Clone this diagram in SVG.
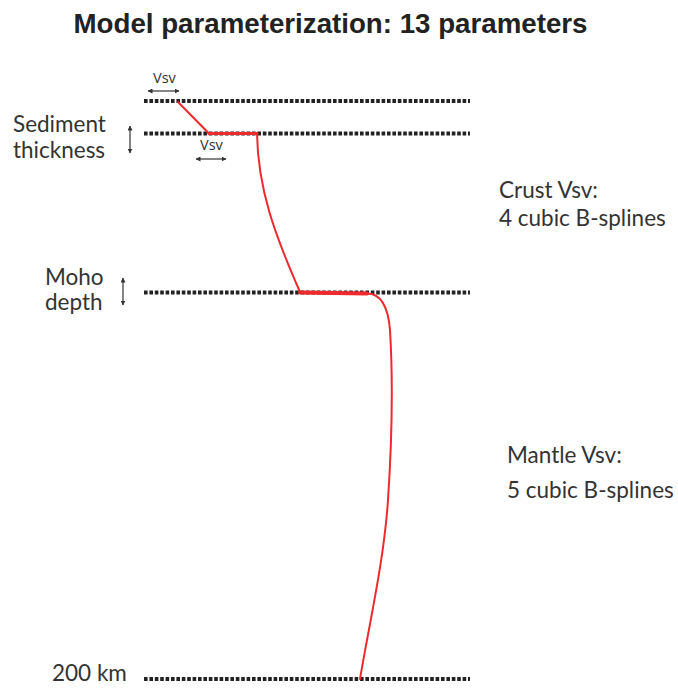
<svg xmlns="http://www.w3.org/2000/svg" width="678" height="692" viewBox="0 0 678 692">
<defs>
<marker id="ah" viewBox="0 0 10 10" refX="9" refY="5" markerWidth="5" markerHeight="5" orient="auto-start-reverse" markerUnits="userSpaceOnUse">
<path d="M0,0 L10,5 L0,10 z" fill="#333"/>
</marker>
<style>
.title{font-family:"Liberation Sans",Arial,sans-serif;font-weight:bold;font-size:27.7px;fill:#222}
.lbl{font-family:Lato,"Open Sans",sans-serif;font-size:22.5px;fill:#333}
.sm{font-family:"Open Sans","Noto Sans",sans-serif;font-size:14.5px;fill:#333}
.dash{stroke:#222;stroke-width:4;stroke-dasharray:3.6 1.8;fill:none}
.arr{stroke:#333;stroke-width:1.2;fill:none;marker-start:url(#ah);marker-end:url(#ah)}
.red{stroke:#ee2a2e;fill:none;stroke-linejoin:round;stroke-linecap:round}
</style>
</defs>
<rect width="678" height="692" fill="#fff"/>
<text class="title" x="330.5" y="33" text-anchor="middle">Model parameterization: 13 parameters</text>

<g id="layers">
<line class="dash" x1="144" y1="101" x2="470" y2="101"/>
<line class="dash" x1="144" y1="133.5" x2="470" y2="133.5"/>
<line class="dash" x1="144" y1="292.5" x2="470" y2="292.5"/>
<line class="dash" x1="144" y1="679" x2="470" y2="679"/>
</g>

<g id="sediment">
<text class="lbl" x="13" y="132">Sediment</text>
<text class="lbl" x="13" y="158">thickness</text>
<line class="arr" x1="130" y1="126" x2="130" y2="153"/>
</g>
<g id="moho">
<text class="lbl" x="45" y="285">Moho</text>
<text class="lbl" x="45" y="310">depth</text>
<line class="arr" x1="123" y1="278" x2="123" y2="305"/>
</g>
<g id="bottom">
<text class="lbl" x="52" y="681">200 km</text>
</g>
<g id="vsv-top">
<text class="sm" x="153" y="83">Vsv</text>
<line class="arr" x1="148" y1="91" x2="179" y2="91"/>
</g>
<g id="vsv-sed">
<text class="sm" x="200" y="150">Vsv</text>
<line class="arr" x1="196" y1="159" x2="226" y2="159"/>
</g>
<g id="crust">
<text class="lbl" x="499" y="198">Crust Vsv:</text>
<text class="lbl" x="499" y="226">4 cubic B-splines</text>
</g>
<g id="mantle">
<text class="lbl" x="507" y="463">Mantle Vsv:</text>
<text class="lbl" x="507" y="498">5 cubic B-splines</text>
</g>

<g id="connectors">
<path class="red" stroke-width="2" d="M178,102 L209,133.5"/>
<path class="red" stroke-width="3" d="M209,133.5 L257,133.5"/>
<path class="red" stroke-width="2" d="M257,133.5 C258,190 275,235 300,292"/>
<path class="red" stroke-width="4" stroke-linecap="butt" d="M300,292.5 L367,293.5"/>
<path class="red" stroke-width="2" d="M366,293.5 C380,293 388,305 390,330 C393,380 392,440 388,500 C384,560 370,620 360,679"/>
</g>
</svg>
